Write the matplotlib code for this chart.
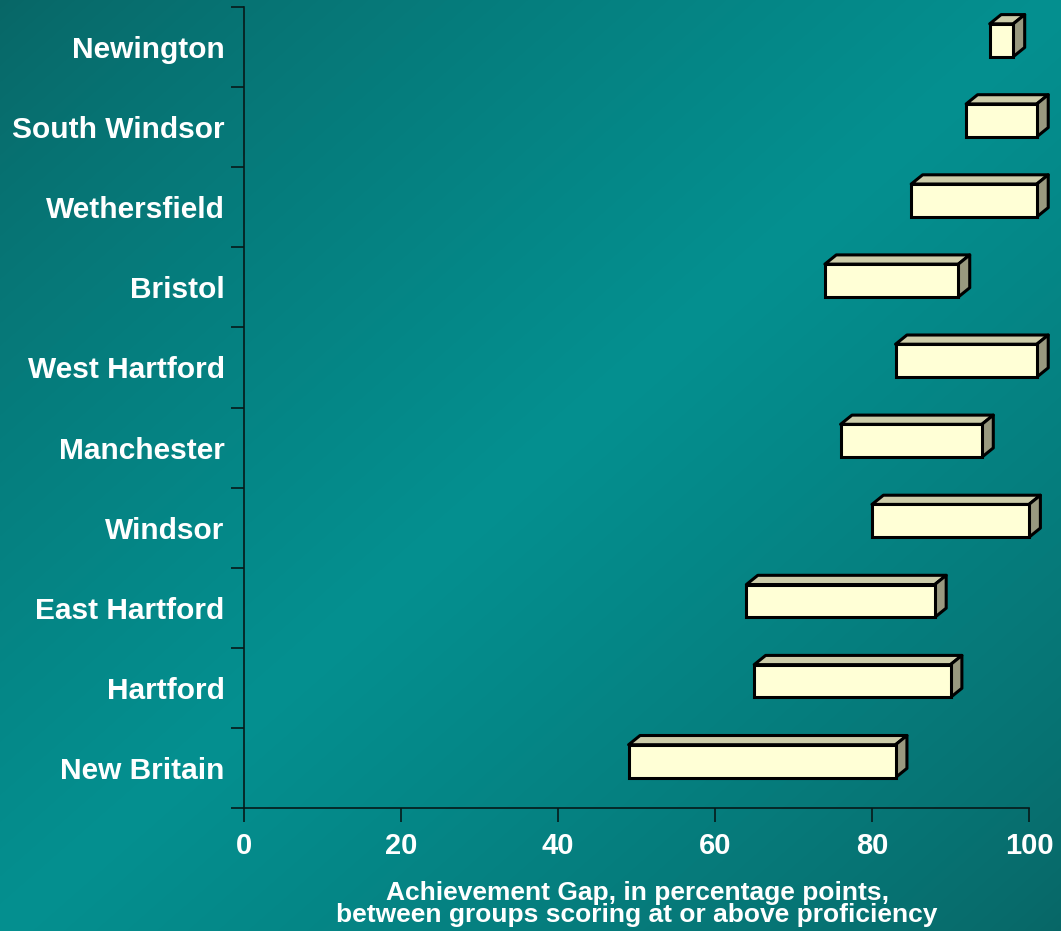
import numpy as np
import matplotlib.pyplot as plt
from matplotlib.patches import Polygon

# Data (bottom to top)
towns = ["New Britain", "Hartford", "East Hartford", "Windsor", "Manchester",
         "West Hartford", "Bristol", "Wethersfield", "South Windsor", "Newington"]
gap_low = [49, 65, 64, 80, 76, 83, 74, 85, 92, 95]
gap_high = [83, 90, 88, 100, 94, 101, 91, 101, 101, 98]
x_ticks = [0, 20, 40, 60, 80, 100]
x_title = "Achievement Gap, in percentage points,\nbetween groups scoring at or above proficiency"

plt.rcParams['font.family'] = ['Liberation Sans', 'DejaVu Sans']
plt.rcParams['font.weight'] = 'bold'

W, H = 1061, 931
fig = plt.figure(figsize=(W / 100, H / 100), dpi=100)

# teal diagonal gradient background
bg = fig.add_axes([0, 0, 1, 1], zorder=-1)
yy, xx = np.mgrid[0:H, 0:W]
t = (xx / W + yy / H) / 2
k = 1 - np.abs(2 * t - 1)
dark = np.array([0x08, 0x66, 0x66]) / 255
bright = np.array([0x04, 0x90, 0x90]) / 255
img = dark + (bright - dark) * k[..., None] ** 0.8
bg.imshow(img, aspect='auto', extent=[0, 1, 0, 1])
bg.set_xlim(0, 1)
bg.set_ylim(0, 1)
bg.axis('off')

ax = fig.add_axes([244 / W, 1 - 808 / H, 785 / W, 801 / H])
ax.patch.set_alpha(0)

y = np.arange(len(towns))
off, bh = 0.085, 0.41      # front face offset / height
dx, dy = 1.45, 0.115       # 3D depth
front_c, top_c, side_c = '#ffffd6', '#cccca9', '#99997f'
edge = dict(ec='black', lw=2.2, joinstyle='round', clip_on=False)

for yi, lo, hi in zip(y, gap_low, gap_high):
    yb, yt = yi + off - bh / 2, yi + off + bh / 2
    ax.add_patch(Polygon([(lo, yt), (lo + dx, yt + dy), (hi + dx, yt + dy), (hi, yt)],
                         fc=top_c, **edge))
    ax.add_patch(Polygon([(hi, yb), (hi, yt), (hi + dx, yt + dy), (hi + dx, yb + dy)],
                         fc=side_c, **edge))
ax.barh(y + off, np.array(gap_high) - np.array(gap_low), left=gap_low, height=bh,
        color=front_c, edgecolor='black', linewidth=2.2, clip_on=False, zorder=3)

ax.set_xlim(0, 100)
ax.set_ylim(-0.5, len(towns) - 0.5)

ax.set_yticks(y)
ax.set_yticklabels(towns)
ax.set_yticks(np.arange(-0.5, len(towns), 1), minor=True)
ax.tick_params(axis='y', which='major', length=0, pad=14, labelsize=21.5, labelcolor='white')
ax.tick_params(axis='y', which='minor', length=9.5, width=1.2, color='#061a1a')

ax.set_xticks(x_ticks)
ax.tick_params(axis='x', length=10, width=1.2, color='#061a1a', pad=7,
               labelsize=21, labelcolor='white')

for s in ['top', 'right']:
    ax.spines[s].set_visible(False)
for s in ['left', 'bottom']:
    ax.spines[s].set_color('#061a1a')
    ax.spines[s].set_linewidth(1.2)

fig.text(637 / W, 1 - 904 / H, x_title, ha='center', va='center', ma='center',
         fontsize=19, color='white', fontweight='bold', linespacing=0.92)

fig.savefig('out.png', dpi=100)
